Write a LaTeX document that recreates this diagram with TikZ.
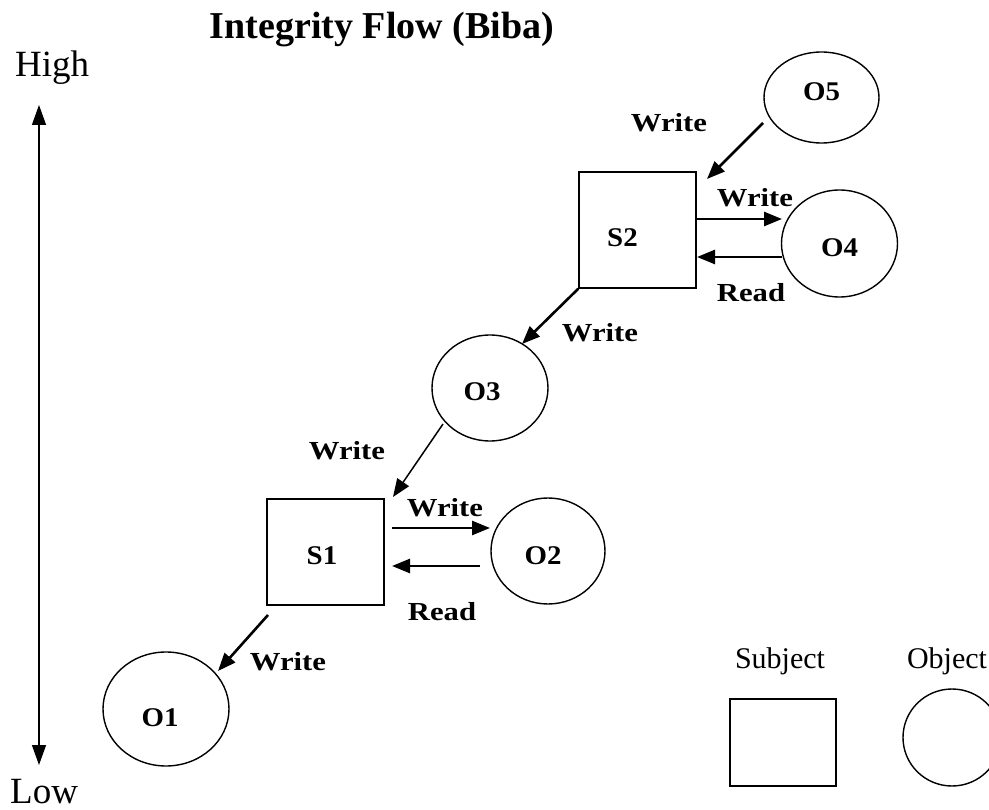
\documentclass[tikz,border=0pt]{standalone}
\usepackage{fontspec}
\setmainfont{Liberation Serif}
\newfontfamily\lblfont{Liberation Serif}[FakeStretch=1.18]
\newfontfamily\objfont{Liberation Serif}[FakeStretch=1.07]
\usetikzlibrary{arrows.meta,shapes.geometric}
\begin{document}
\begin{tikzpicture}[x=1pt,y=-1pt,
  subj/.style={draw, line width=1.4pt, inner sep=0pt, rectangle},
  obj/.style={draw, ellipse, line width=1.4pt, inner sep=0pt},
  nm/.style={font=\objfont\bfseries\fontsize{27}{30}\selectfont, inner sep=0pt},
  lbl/.style={font=\lblfont\bfseries\fontsize{26}{30}\selectfont, inner sep=0pt},
  arr/.style={-{Triangle[length=18pt,width=14pt]}, line width=2.6pt},
  tarr/.style={-{Triangle[length=18pt,width=14pt]}, line width=1.5pt},
  plain/.style={inner sep=0pt}]
\useasboundingbox (0,0) rectangle (989,810);
\clip (0,0) rectangle (989,810);
% title and scale
\node[plain, anchor=base, font=\bfseries\fontsize{38}{44}\selectfont] (title) at (382,39) {Integrity Flow (Biba)};
\node[plain, anchor=base west, font=\fontsize{37}{40}\selectfont] (high) at (15,77) {High};
\node[plain, anchor=base west, font=\fontsize{37}{40}\selectfont] (low) at (10,803) {Low};
\coordinate (hi) at (39,105);
\coordinate (lo) at (39,765);
\draw[{Triangle[length=20pt,width=14pt]}-{Triangle[length=20pt,width=14pt]}, line width=1.4pt] (hi) -- (lo);
% subjects and objects
\node[subj, minimum width=117pt, minimum height=116pt, label={[nm,xshift=-15pt,yshift=-8pt]center:S2}] (S2) at (637.5,230) {};
\node[subj, minimum width=117pt, minimum height=106pt, label={[nm,xshift=-3.5pt,yshift=-4pt]center:S1}] (S1) at (325.5,552) {};
\node[obj, minimum width=115pt, minimum height=91pt, label={[nm,yshift=5.5pt]center:O5}] (O5) at (821.5,97.5) {};
\node[obj, minimum width=116pt, minimum height=107pt, label={[nm,yshift=-4.5pt]center:O4}] (O4) at (839.5,243.5) {};
\node[obj, minimum width=116pt, minimum height=106pt, label={[nm,xshift=-8pt,yshift=-4pt]center:O3}] (O3) at (490,388) {};
\node[obj, minimum width=114pt, minimum height=106pt, label={[nm,xshift=-5pt,yshift=-5pt]center:O2}] (O2) at (548,551) {};
\node[obj, minimum width=126pt, minimum height=114pt, label={[nm,xshift=-6pt,yshift=-9pt]center:O1}] (O1) at (166,709) {};
% arrows
\coordinate (a1s) at (763,123); \coordinate (a1e) at (707,179);
\coordinate (a2s) at (697,219); \coordinate (a2e) at (782,219);
\coordinate (a3s) at (782,257); \coordinate (a3e) at (697,257);
\coordinate (a4e) at (522,344);
\coordinate (a5s) at (443,424); \coordinate (a5e) at (393,497);
\coordinate (a6s) at (392,528); \coordinate (a6e) at (490,528);
\coordinate (a7s) at (480,566); \coordinate (a7e) at (392,566);
\coordinate (a8s) at (268,615); \coordinate (a8e) at (218,671);
\draw[arr] (a1s) -- (a1e);
\draw[arr] (a2s) -- (a2e);
\draw[arr] (a3s) -- (a3e);
\draw[arr] (S2.south west) -- (a4e);
\draw[tarr] (a5s) -- (a5e);
\draw[arr] (a6s) -- (a6e);
\draw[arr] (a7s) -- (a7e);
\draw[arr] (a8s) -- (a8e);
% arrow labels
\node[lbl] (l1) at (669,123) {Write};
\node[lbl] (l2) at (755,198) {Write};
\node[lbl] (l3) at (751,293) {Read};
\node[lbl] (l4) at (600,333) {Write};
\node[lbl] (l5) at (347,451) {Write};
\node[lbl] (l6) at (445,508) {Write};
\node[lbl] (l7) at (442,612) {Read};
\node[lbl] (l8) at (288,662) {Write};
% legend
\node[plain, anchor=base, font=\fontsize{30}{34}\selectfont] (lst) at (780,668) {Subject};
\node[plain, anchor=base, font=\fontsize{30}{34}\selectfont] (lot) at (947,668) {Object};
\node[subj, minimum width=106pt, minimum height=87pt] (LS) at (783,742.5) {};
\node[obj, minimum width=98pt, minimum height=97pt] (LO) at (952,737.5) {};
\end{tikzpicture}
\end{document}
